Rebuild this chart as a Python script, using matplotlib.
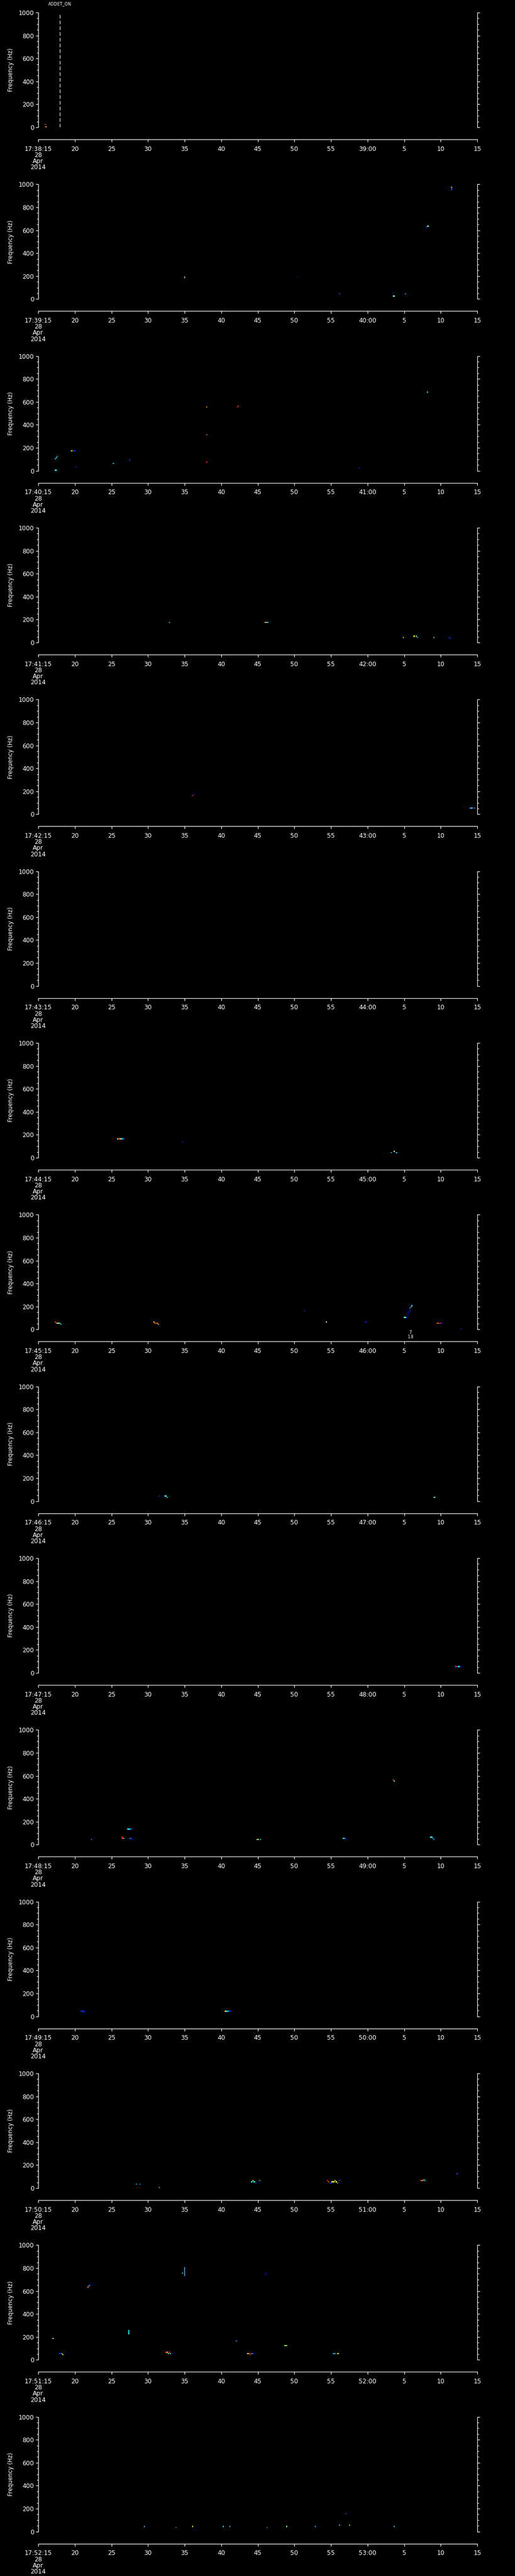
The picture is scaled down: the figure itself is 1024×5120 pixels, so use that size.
import numpy as np
import matplotlib
matplotlib.use("Agg")
import matplotlib.pyplot as plt
from matplotlib.transforms import blended_transform_factory

# ---------------- data ----------------
# panel start minute (17:MM:15), each panel spans 60 s
panel_minutes = [38, 39, 40, 41, 42, 43, 44, 45, 46, 47, 48, 49, 50, 51, 52]
date_lines = ["28", "Apr", "2014"]
tick_seconds = [0, 5, 10, 15, 20, 25, 30, 35, 40, 45, 50, 55, 60]
y_ticks = [0, 200, 400, 600, 800, 1000]

event_time = 2.95          # seconds after 17:38:15
event_label = "ADDET_ON"
note_time = 50.86          # seconds after 17:45:15
note_lines = ["7", "1.8"]

# spectrogram cells: (seconds from panel start, frequency Hz, colour level 0..1)
p01 = [(0.95, 28, 0.87), (1.05, 28, 0.13), (1.0, 5, 0.87), (1.12, 5, 0.5)]
p02 = [(20.0, 185, 0.45), (20.0, 192, 0.3), (35.4, 199, 0.12), (41.1, 44, 0.22),
       (48.5, 58, 0.15), (48.5, 26, 0.4), (48.65, 26, 0.45), (50.2, 49, 0.3),
       (53.0, 624, 0.15), (53.15, 636, 0.4), (53.3, 636, 0.75),
       (56.4, 950, 0.2), (56.4, 960, 0.2), (56.4, 970, 0.62)]
p03 = [(2.3, 5, 0.4), (2.45, 5, 0.35), (2.35, 108, 0.35), (2.45, 118, 0.35), (2.6, 122, 0.3),
       (4.5, 172, 0.6), (4.7, 170, 0.2), (4.9, 170, 0.15), (5.05, 170, 0.2),
       (5.2, 37, 0.15), (10.2, 64, 0.3), (12.55, 91, 0.2),
       (23.0, 556, 0.75), (23.0, 317, 0.8), (23.0, 76, 0.87),
       (27.2, 553, 0.87), (27.3, 560, 0.85), (43.8, 29, 0.15), (53.2, 687, 0.35)]
p04 = [(17.9, 175, 0.4), (30.9, 171, 0.75), (31.05, 171, 0.6), (31.2, 171, 0.4), (31.4, 171, 0.3),
       (49.8, 44, 0.65), (51.4, 57, 0.65), (51.6, 50, 0.45), (51.8, 44, 0.3),
       (54.1, 48, 0.4), (56.1, 44, 0.15), (56.25, 39, 0.15)]
p05 = [(21.0, 166, 0.87), (21.15, 177, 0.12),
       (58.9, 54, 0.15), (59.05, 54, 0.3), (59.2, 57, 0.55), (59.35, 54, 0.35),
       (59.5, 54, 0.15), (59.65, 57, 0.87)]
p06 = []
p07 = [(10.9, 160, 0.45), (11.05, 160, 0.85), (11.2, 163, 0.7), (11.35, 166, 0.35),
       (11.5, 166, 0.3), (11.65, 166, 0.25), (19.7, 136, 0.15),
       (48.2, 48, 0.3), (48.7, 54, 0.6), (48.9, 48, 0.35)]
p08 = [(2.3, 61, 0.87), (2.45, 55, 0.82), (2.6, 52, 0.65), (2.75, 58, 0.5), (2.9, 52, 0.4), (3.05, 49, 0.35),
       (15.8, 64, 0.7), (15.95, 58, 0.82), (16.1, 52, 0.87), (16.25, 55, 0.75), (16.4, 49, 0.4),
       (36.3, 164, 0.15), (39.4, 63, 0.45), (44.8, 68, 0.15),
       (50.0, 104, 0.4), (50.2, 109, 0.45), (50.35, 104, 0.2),
       (50.4, 127, 0.12), (50.5, 140, 0.12), (50.6, 155, 0.12), (50.7, 168, 0.15),
       (50.8, 180, 0.3), (50.9, 192, 0.35), (51.0, 204, 0.4), (51.1, 214, 0.15),
       (54.5, 54, 0.87), (54.65, 54, 0.8), (54.8, 54, 0.15), (54.95, 54, 0.87), (55.1, 54, 0.15),
       (57.8, 7, 0.15)]
p09 = [(16.5, 40, 0.15), (17.3, 40, 0.4), (17.45, 40, 0.4), (17.6, 35, 0.3),
       (54.0, 35, 0.55), (54.15, 35, 0.35)]
p10 = [(57.1, 58, 0.87), (57.25, 55, 0.15), (57.4, 55, 0.35), (57.55, 55, 0.3), (57.7, 55, 0.15)]
p11 = [(7.3, 49, 0.25), (11.4, 69, 0.87), (11.4, 60, 0.87), (11.5, 52, 0.85), (11.65, 54, 0.35),
       (11.8, 54, 0.2), (12.2, 130, 0.35), (12.35, 130, 0.35), (12.5, 130, 0.3), (12.7, 133, 0.2),
       (12.5, 52, 0.25), (12.7, 52, 0.2), (12.85, 49, 0.15),
       (29.95, 48, 0.7), (30.1, 48, 0.45), (30.3, 48, 0.3),
       (41.6, 50, 0.35), (41.75, 56, 0.4), (41.9, 52, 0.25), (42.1, 48, 0.15),
       (48.5, 560, 0.87), (48.6, 550, 0.62),
       (53.6, 69, 0.4), (53.75, 62, 0.35), (53.9, 55, 0.3), (54.05, 48, 0.25)]
p12 = [(5.8, 46, 0.15), (6.0, 46, 0.2), (6.15, 42, 0.15), (6.35, 38, 0.12),
       (25.6, 44, 0.65), (25.75, 40, 0.35), (25.9, 46, 0.3), (26.05, 44, 0.2), (26.25, 40, 0.15)]
p13 = [(13.4, 38, 0.3), (13.9, 38, 0.25), (16.5, 3, 0.35),
       (29.2, 56, 0.35), (29.35, 60, 0.6), (29.5, 55, 0.45), (29.65, 50, 0.25), (29.8, 46, 0.15), (30.2, 60, 0.3),
       (39.5, 63, 0.87), (39.6, 52, 0.87), (39.75, 46, 0.15), (39.9, 48, 0.2), (40.05, 54, 0.6),
       (40.2, 56, 0.7), (40.35, 56, 0.65), (40.5, 60, 0.65), (40.65, 54, 0.6), (40.8, 48, 0.35), (41.2, 60, 0.2),
       (52.2, 66, 0.78), (52.35, 66, 0.82), (52.5, 64, 0.7), (52.65, 70, 0.35), (52.8, 66, 0.35),
       (57.2, 126, 0.2)]
p14 = [(1.96, 188, 0.5), (2.95, 50, 0.2), (3.1, 54, 0.15), (3.25, 50, 0.65), (3.4, 48, 0.6),
       (6.8, 635, 0.8), (6.95, 640, 0.3), (7.05, 650, 0.15), (7.2, 660, 0.12),
       (12.3, 226, 0.4), (12.3, 236, 0.35), (12.3, 246, 0.35), (12.3, 252, 0.35),
       (17.5, 66, 0.87), (17.65, 60, 0.75), (17.8, 57, 0.4), (17.95, 62, 0.85), (18.1, 58, 0.4), (18.3, 57, 0.15),
       (19.7, 750, 0.4),
       (19.96, 735, 0.28), (19.96, 745, 0.28), (19.96, 755, 0.28), (19.96, 765, 0.28),
       (19.96, 775, 0.28), (19.96, 785, 0.28), (19.96, 795, 0.28), (19.96, 805, 0.28),
       (27.05, 163, 0.3),
       (28.5, 58, 0.65), (28.65, 54, 0.7), (28.8, 50, 0.82), (28.95, 47, 0.87),
       (29.1, 52, 0.3), (29.25, 55, 0.15), (29.4, 50, 0.15),
       (31.0, 749, 0.12), (31.15, 759, 0.15),
       (33.6, 128, 0.55), (33.75, 128, 0.6), (33.9, 128, 0.55),
       (40.3, 50, 0.25), (40.45, 50, 0.3), (40.6, 50, 0.4), (40.8, 50, 0.6), (41.0, 50, 0.65)]
p15 = [(14.5, 40, 0.3), (18.8, 30, 0.25), (21.0, 45, 0.6), (25.2, 40, 0.35), (26.2, 45, 0.3),
       (31.3, 35, 0.25), (34.0, 40, 0.5), (37.8, 40, 0.3), (41.2, 55, 0.35), (42.1, 150, 0.2),
       (42.5, 50, 0.4), (48.6, 40, 0.3)]
panels = [p01, p02, p03, p04, p05, p06, p07, p08, p09, p10, p11, p12, p13, p14, p15]

# ---------------- layout ----------------
W, H = 1024, 5120
DPI = 100
PX = 72.0 / DPI          # points per pixel
fig = plt.figure(figsize=(W / DPI, H / DPI), dpi=DPI, facecolor="black")
plt.rcParams["font.family"] = ["DejaVu Sans"]

PANEL_H = H / 15.0
LEFT, RIGHT = 76, 949
TOP_OFF, BOT_OFF = 25, 253
FS = 8.8

dt, df = 0.15, 10.0
t_edges = np.arange(0, 60 + dt / 2, dt)
f_edges = np.arange(0, 1000 + df / 2, df)

for i, cells in enumerate(panels):
    top = i * PANEL_H + TOP_OFF
    bot = i * PANEL_H + BOT_OFF
    ax = fig.add_axes([LEFT / W, 1 - bot / H, (RIGHT - LEFT) / W, (bot - top) / H])
    ax.set_facecolor("black")
    ax.set_xlim(0, 60)
    ax.set_ylim(0, 1000)

    grid = np.full((len(f_edges) - 1, len(t_edges) - 1), np.nan)
    for t, f, v in cells:
        ti = min(int(t / dt), grid.shape[1] - 1)
        fi = min(int(f / df), grid.shape[0] - 1)
        grid[fi, ti] = v
    ax.pcolormesh(t_edges, f_edges, np.ma.masked_invalid(grid), cmap="jet",
                  vmin=0, vmax=1, shading="flat", antialiased=False)

    # spines
    for s in ("left", "right", "bottom"):
        ax.spines[s].set_color("white")
        ax.spines[s].set_linewidth(1.2 * PX)
    ax.spines["top"].set_visible(False)
    ax.spines["bottom"].set_position(("outward", 24 * PX))

    # x axis
    mm = panel_minutes[i]
    xlabels = []
    for s in tick_seconds:
        tot = 15 + s
        if s == 0:
            xlabels.append("17:%02d:15\n" % mm + "\n".join(date_lines))
        elif tot == 60:
            xlabels.append("%02d:00" % (mm + 1))
        else:
            xlabels.append(str(tot % 60))
    ax.set_xticks(tick_seconds)
    ax.set_xticklabels(xlabels, linespacing=0.92)
    ax.tick_params(axis="x", colors="white", direction="out", length=5 * PX,
                   width=1.2 * PX, labelsize=FS, pad=5.5)

    # y axis
    ax.set_yticks(y_ticks)
    ax.set_yticks(np.arange(0, 1001, 50), minor=True)
    ax.tick_params(axis="y", which="both", colors="white", direction="out",
                   left=True, right=True, labelleft=True, labelright=False,
                   width=1.2 * PX, labelsize=FS, pad=2.5)
    ax.tick_params(axis="y", which="major", length=5 * PX)
    ax.tick_params(axis="y", which="minor", length=3 * PX)

    fig.text(22 / W, 1 - (top + bot) / 2 / H, "Frequency (Hz)", rotation=90,
             color="white", fontsize=8.3, ha="center", va="center")

    if i == 0:
        ax.axvline(event_time, color="white", lw=1.2 * PX, dashes=(6, 3.5))
        tr = blended_transform_factory(ax.transData, ax.transAxes)
        ax.text(event_time, 1 + 17.5 / (bot - top), event_label, transform=tr,
                color="white", fontsize=6, ha="center", va="center")
    if i == 7:
        tr = blended_transform_factory(ax.transData, ax.transAxes)
        ax.text(note_time, -6.5 / (bot - top), note_lines[0], transform=tr,
                color="white", fontsize=6, ha="center", va="center")
        ax.text(note_time, -15.5 / (bot - top), note_lines[1], transform=tr,
                color="white", fontsize=5.5, ha="center", va="center")

fig.savefig("out.png", dpi=DPI, facecolor="black")
